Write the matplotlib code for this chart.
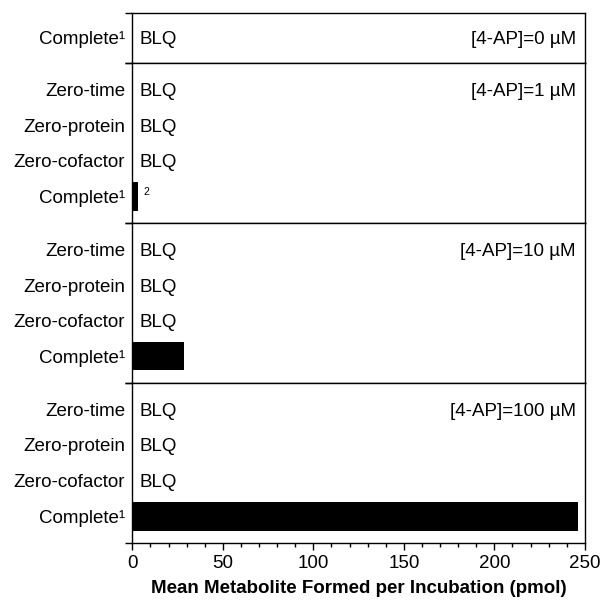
import numpy as np
import matplotlib
matplotlib.use("Agg")
import matplotlib.pyplot as plt
from matplotlib.ticker import MultipleLocator

plt.rcParams["font.family"] = ["Liberation Sans", "DejaVu Sans"]
plt.rcParams["font.size"] = 13.5

# concentraciones de 4-AP y condiciones de incubación por panel
concentraciones = ["0", "1", "10", "100"]
condiciones = [
    ["Complete¹"],
    ["Zero-time", "Zero-protein", "Zero-cofactor", "Complete¹"],
    ["Zero-time", "Zero-protein", "Zero-cofactor", "Complete¹"],
    ["Zero-time", "Zero-protein", "Zero-cofactor", "Complete¹"],
]
# pmol formados; nan = por debajo del límite de cuantificación (BLQ)
valores = [
    [np.nan],
    [np.nan, np.nan, np.nan, 3.3],
    [np.nan, np.nan, np.nan, 28.7],
    [np.nan, np.nan, np.nan, 246],
]
notas = [
    [None],
    [None, None, None, "2"],
    [None, None, None, None],
    [None, None, None, None],
]


def dibujar_panel(ax, etiquetas, datos, notas_panel, conc):
    n = len(etiquetas)
    pos = np.arange(n)
    margen = 0.69 if n == 1 else 0.75
    lo, hi = -margen, n - 1 + margen

    for y, v, nota in zip(pos, datos, notas_panel):
        if np.isnan(v):
            ax.annotate("BLQ", (0, y), xytext=(5.5, 0), textcoords="offset points",
                        ha="left", va="center_baseline")
        else:
            ax.barh(y, v, height=0.8, color="black")
            if nota:
                ax.annotate(nota, (v, y), xytext=(4, 3), textcoords="offset points",
                            ha="left", va="center", fontsize=7.5)

    ax.annotate(f"[4-AP]={conc} µM", (1, 0), xycoords=("axes fraction", "data"),
                xytext=(-6.5, 0), textcoords="offset points", ha="right",
                va="center_baseline")

    ax.set_ylim(hi, lo)
    ax.set_yticks(pos)
    ax.set_yticklabels(etiquetas)
    ax.set_yticks([lo, hi], minor=True)
    ax.tick_params(axis="y", which="major", length=0, pad=5)
    ax.tick_params(axis="y", which="minor", length=5, width=1)
    for s in ax.spines.values():
        s.set_linewidth(1.0)


def main():
    fig, axs = plt.subplots(4, 1, figsize=(6.03, 6.01), dpi=100, sharex=True,
                            gridspec_kw=dict(height_ratios=[1.38, 4.5, 4.46, 4.49], hspace=0))
    fig.subplots_adjust(left=0.2194, right=0.970, top=0.978, bottom=0.0965)

    for ax, etiquetas, datos, notas_panel, conc in zip(axs, condiciones, valores, notas, concentraciones):
        dibujar_panel(ax, etiquetas, datos, notas_panel, conc)
        ax.tick_params(axis="x", which="both", bottom=False)

    ax = axs[-1]
    ax.set_xlim(0, 250)
    ax.xaxis.set_major_locator(MultipleLocator(50))
    ax.xaxis.set_minor_locator(MultipleLocator(10))
    ax.tick_params(axis="x", which="major", bottom=True, length=5, width=1, pad=3.5, labelsize=13.5)
    ax.tick_params(axis="x", which="minor", bottom=True, length=3.2, width=1)
    ax.set_xlabel("Mean Metabolite Formed per Incubation (pmol)", fontweight="bold",
                  fontsize=13.5, labelpad=6)

    fig.savefig("out.png", dpi=100)


if __name__ == "__main__":
    main()
